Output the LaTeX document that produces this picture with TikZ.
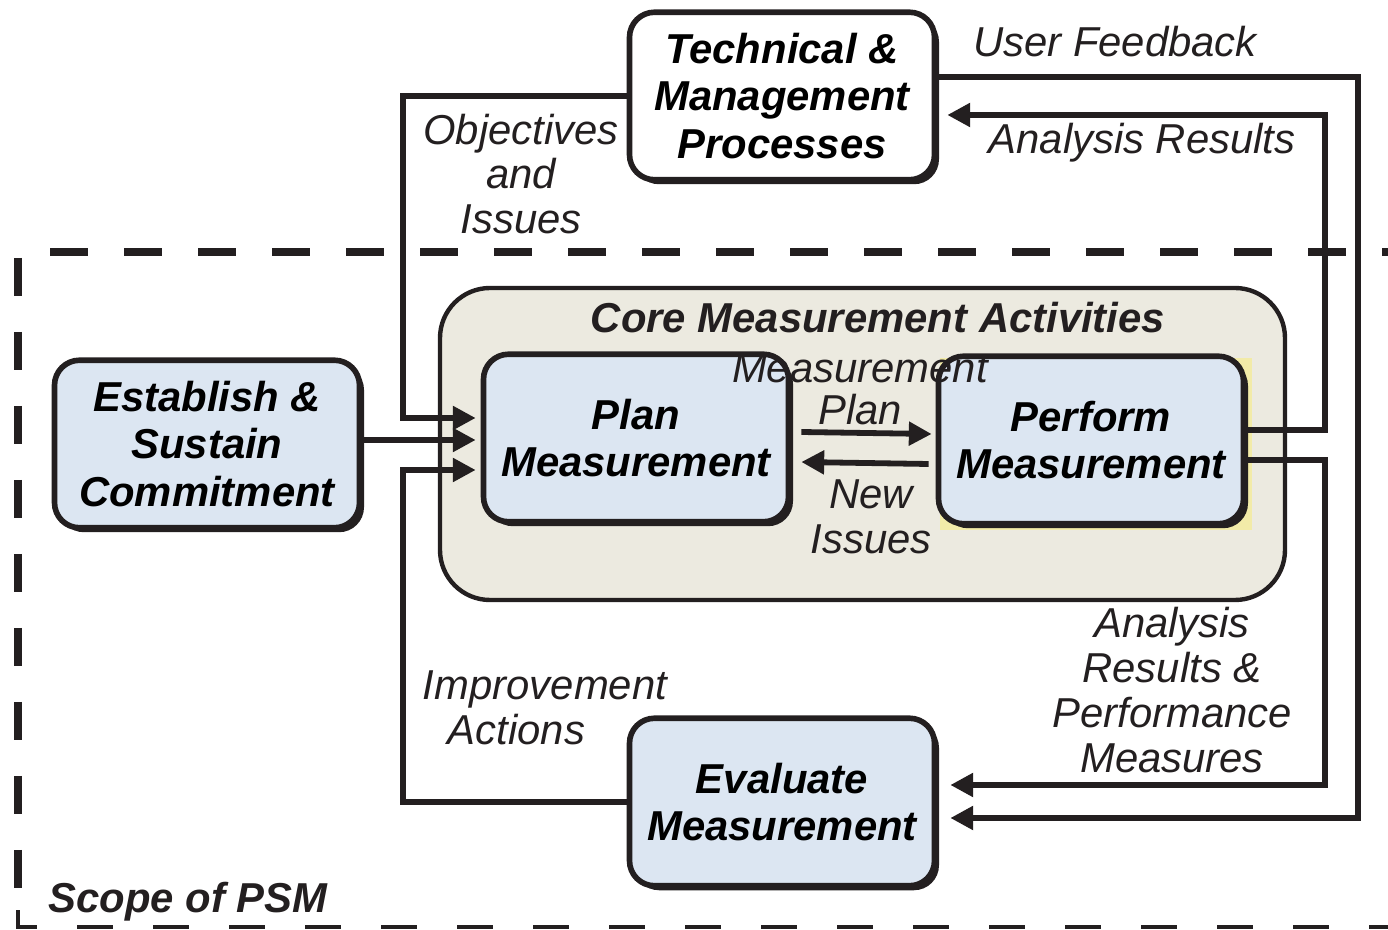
\documentclass[tikz,border=0pt]{standalone}
\usepackage{fontspec}
\setmainfont{Liberation Sans}
\usepackage{tikz}
\usetikzlibrary{arrows.meta,shadows}
\definecolor{boxblue}{RGB}{220,230,242}
\definecolor{corebg}{RGB}{236,234,224}
\definecolor{shyellow}{RGB}{242,235,168}
\definecolor{ink}{RGB}{35,31,32}
\tikzstyle{block}=[rectangle,rounded corners=0.5cm,draw=ink,line width=3.2pt,
    minimum width=6.1cm,minimum height=3.35cm,align=center,
    font=\fontsize{23.8}{27.2}\selectfont\bfseries\itshape,
    drop shadow={shadow xshift=0.09cm,shadow yshift=-0.09cm,fill=ink,opacity=1}]
\tikzstyle{process}=[block,fill=boxblue]
\tikzstyle{label}=[align=center,inner sep=0,text=ink,
    font=\fontsize{23.8}{25.5}\selectfont\itshape]
\tikzstyle{flow}=[line width=3.3pt,draw=ink]

\begin{document}
\begin{tikzpicture}[>={Triangle[length=13pt,width=13pt]}]
        \useasboundingbox (0,0) rectangle (27.76,-18.6);
        \draw[ink,line width=4pt,dash pattern=on 0.76cm off 0.72cm] (1.0,-5.04) -- (27.76,-5.04);
        \draw[ink,line width=4pt,dash pattern=on 0.76cm off 0.72cm] (0.36,-5.16) -- (0.36,-18.2);
        \draw[ink,line width=1.8pt,dash pattern=on 0.72cm off 0.8cm] (0.36,-18.2) -- (0.36,-18.54) -- (27.76,-18.54);

        \node[rectangle,rounded corners=1cm,draw=ink,line width=2.5pt,fill=corebg,
            minimum width=16.9cm,minimum height=6.24cm] (core) at (17.25,-8.88) {};
        \node[font=\fontsize{23.8}{27.2}\selectfont\bfseries\itshape,text=ink] (coretitle) at (17.56,-6.36)
            {Core Measurement Activities};
        \fill[shyellow] (18.8,-7.16) rectangle (25.04,-10.6);

        \node[block,fill=white] (tech) at (15.64,-1.92) {Technical \&\\Management\\Processes};
        \node[process] (est)  at (4.14,-8.88)  {Establish \&\\Sustain\\Commitment};
        \node[process] (plan) at (12.72,-8.76) {Plan\\Measurement};
        \node[process] (perf) at (21.82,-8.8)  {Perform\\Measurement};
        \node[process] (eval) at (15.64,-16.04) {Evaluate\\Measurement};

        \coordinate (ltop) at (8.06,-8.36);
        \coordinate (lbot) at (8.06,-9.4);
        \coordinate (rnear) at (26.5,-2.3);
        \coordinate (rlow) at (26.5,-15.7);
        \coordinate (rfar) at (27.16,-16.36);

        \draw [flow,->] (tech.west) -| (ltop) -- ([xshift=-0.1cm]ltop -| plan.west);
        \draw [flow,->] ([yshift=0.08cm]est.east) -- ([xshift=-0.1cm,yshift=0.08cm]est.east -| plan.west);
        \draw [flow,->] (eval.west) -| (lbot) -- ([xshift=-0.1cm]lbot -| plan.west);
        \draw [flow,->] ([xshift=0.2cm,yshift=0.12cm]plan.east) -- ([xshift=-0.08cm,yshift=0.12cm]perf.west);
        \draw [flow,->] ([xshift=-0.14cm,yshift=-0.48cm]perf.west) -- ([xshift=0.2cm,yshift=-0.48cm]plan.east);
        \draw [flow,->] ([yshift=0.2cm]perf.east) -| (rnear) -- ([xshift=0.2cm]rnear -| tech.east);
        \draw [flow,->] ([yshift=-0.4cm]perf.east) -| (rlow) -- ([xshift=0.26cm]rlow -| eval.east);
        \draw [flow,->] ([yshift=0.38cm]tech.east) -| (rfar) -- ([xshift=0.26cm]rfar -| eval.east);

        \node[label] (objlbl) at (10.42,-3.48) {Objectives\\and\\Issues};
        \node[label] (uflbl) at (22.3,-0.84) {User Feedback};
        \node[label] (arlbl) at (22.84,-2.86) {Analysis Results};
        \node[label,font=\fontsize{23.8}{24}\selectfont\itshape] (mplbl) at (17.2,-7.78) {Measurement\\Plan};
        \node[label] (nilbl) at (17.42,-10.34) {New\\Issues};
        \node[label] (pmlbl) at (23.44,-13.8) {Analysis\\Results \&\\Performance\\Measures};
        \node[label,align=left] (iallbl) at (10.9,-14.16) {Improvement\\\hspace{0.5cm}Actions};
        \node[anchor=west,inner sep=0,text=ink,font=\fontsize{23.8}{27}\selectfont\bfseries\itshape]
            (scope) at (0.96,-18.04) {Scope of PSM};
    \end{tikzpicture}
\end{document}
